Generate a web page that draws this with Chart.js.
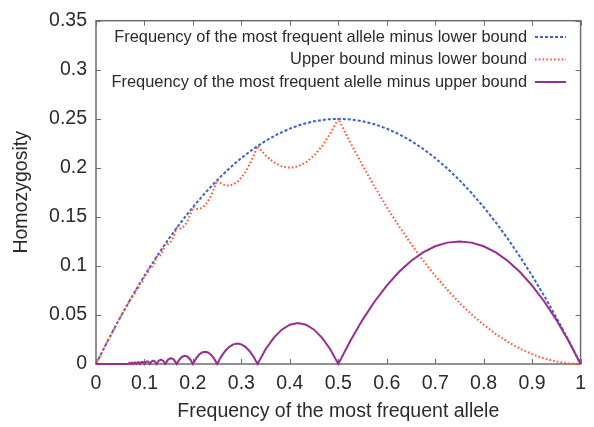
<!DOCTYPE html>
<html>
<head>
<meta charset="utf-8">
<script src="https://cdn.jsdelivr.net/npm/chart.js@4/dist/chart.umd.min.js"></script>
<style>
  html, body { margin: 0; padding: 0; background: #fff; }
  #wrap { width: 594px; height: 427px; }
</style>
</head>
<body>
<div id="wrap"><canvas id="c" width="594" height="427"></canvas></div>
<script>
const seriesLabels = [
  "Frequency of the most frequent allele minus lower bound",
  "Upper bound minus lower bound",
  "Frequency of the most frequent alelle minus upper bound"
];
const xTitle = "Frequency of the most frequent allele";
const yTitle = "Homozygosity";

const blueX = [0, 0.025, 0.05, 0.075, 0.1, 0.125, 0.15, 0.175, 0.2, 0.225, 0.25, 0.275, 0.3, 0.325, 0.35, 0.375, 0.4, 0.425, 0.45, 0.475, 0.5,
  0.525, 0.55, 0.575, 0.6, 0.625, 0.65, 0.675, 0.7, 0.725, 0.75, 0.775, 0.8, 0.825, 0.85, 0.875, 0.9, 0.925, 0.95, 0.975, 1];
const blueY = [0, 0.024375, 0.0475, 0.069375, 0.09, 0.109375, 0.1275, 0.144375, 0.16, 0.174375, 0.1875, 0.199375, 0.21, 0.219375, 0.2275, 0.234375, 0.24, 0.244375, 0.2475, 0.249375, 0.25,
  0.249375, 0.2475, 0.244375, 0.24, 0.234375, 0.2275, 0.219375, 0.21, 0.199375, 0.1875, 0.174375, 0.16, 0.144375, 0.1275, 0.109375, 0.09, 0.069375, 0.0475, 0.024375, 0];

const orangeX = [0, 0.025, 0.05, 0.0625, 0.071429, 0.074176, 0.076923, 0.080128, 0.083333, 0.087121, 0.090909, 0.095455, 0.1, 0.105556, 0.111111, 0.115741, 0.12037, 0.125,
  0.129464, 0.133929, 0.138393, 0.142857, 0.14881, 0.154762, 0.160714, 0.166667,
  0.172222, 0.177778, 0.183333, 0.188889, 0.194444, 0.2,
  0.20625, 0.2125, 0.21875, 0.225, 0.23125, 0.2375, 0.24375, 0.25,
  0.258333, 0.266667, 0.275, 0.283333, 0.291667, 0.3, 0.308333, 0.316667, 0.325, 0.333333,
  0.35, 0.366667, 0.383333, 0.4, 0.416667, 0.433333, 0.45, 0.466667, 0.483333, 0.5,
  0.525, 0.55, 0.575, 0.6, 0.625, 0.65, 0.675, 0.7, 0.725, 0.75, 0.775, 0.8, 0.825, 0.85, 0.875, 0.9, 0.925, 0.95, 0.975, 1];
const orangeY = [0, 0.024375, 0.0475, 0.058594, 0.066327, 0.0673, 0.071006, 0.072105, 0.076389, 0.077637, 0.082645, 0.08407, 0.09, 0.091636, 0.098765, 0.099264, 0.102793, 0.109375,
  0.109354, 0.111529, 0.115891, 0.122449, 0.122205, 0.12486, 0.130421, 0.138889,
  0.137932, 0.138765, 0.141389, 0.145802, 0.152007, 0.16,
  0.158242, 0.157969, 0.15918, 0.161875, 0.166055, 0.171719, 0.178867, 0.1875,
  0.184097, 0.182222, 0.181875, 0.183056, 0.185764, 0.19, 0.195764, 0.203056, 0.211875, 0.222222,
  0.2125, 0.205556, 0.201389, 0.2, 0.201389, 0.205556, 0.2125, 0.222222, 0.234722, 0.25,
  0.225625, 0.2025, 0.180625, 0.16, 0.140625, 0.1225, 0.105625, 0.09, 0.075625, 0.0625, 0.050625, 0.04, 0.030625, 0.0225, 0.015625, 0.01, 0.005625, 0.0025, 0.000625, 0];

const purpleX = [0, 0.066667, 0.069048, 0.071429, 0.074176, 0.076923, 0.080128, 0.083333, 0.085227, 0.087121, 0.089015, 0.090909,
  0.093182, 0.095455, 0.097727, 0.1, 0.102778, 0.105556, 0.108333, 0.111111, 0.114583, 0.118056, 0.121528, 0.125,
  0.129464, 0.133929, 0.138393, 0.142857, 0.14881, 0.154762, 0.160714, 0.166667,
  0.172222, 0.177778, 0.183333, 0.188889, 0.194444, 0.2,
  0.20625, 0.2125, 0.21875, 0.225, 0.23125, 0.2375, 0.24375, 0.25,
  0.258333, 0.266667, 0.275, 0.283333, 0.291667, 0.3, 0.308333, 0.316667, 0.325, 0.333333,
  0.35, 0.366667, 0.383333, 0.4, 0.416667, 0.433333, 0.45, 0.466667, 0.483333, 0.5,
  0.525, 0.55, 0.575, 0.6, 0.625, 0.65, 0.675, 0.7, 0.725, 0.75, 0.775, 0.8, 0.825, 0.85, 0.875, 0.9, 0.925, 0.95, 0.975, 1];
const purpleY = [0, 0, 0.00119, 0, 0.001374, 0, 0.001603, 0, 0.00142, 0.001894, 0.00142, 0,
  0.001705, 0.002273, 0.001705, 0, 0.002083, 0.002778, 0.002083, 0, 0.002604, 0.003472, 0.002604, 0,
  0.003348, 0.004464, 0.003348, 0, 0.004464, 0.005952, 0.004464, 0,
  0.00463, 0.007407, 0.008333, 0.007407, 0.00463, 0,
  0.005469, 0.009375, 0.011719, 0.0125, 0.011719, 0.009375, 0.005469, 0,
  0.0075, 0.013333, 0.0175, 0.02, 0.020833, 0.02, 0.0175, 0.013333, 0.0075, 0,
  0.015, 0.026667, 0.035, 0.04, 0.041667, 0.04, 0.035, 0.026667, 0.015, 0,
  0.02375, 0.045, 0.06375, 0.08, 0.09375, 0.105, 0.11375, 0.12, 0.12375, 0.125, 0.12375, 0.12, 0.11375, 0.105, 0.09375, 0.08, 0.06375, 0.045, 0.02375, 0];

const pts = (xs, ys) => xs.map((x, i) => ({ x: x, y: ys[i] }));

const FONT = "'Liberation Sans', Arial, sans-serif";
const TEXT = '#2b2b2b';
const FRAME = '#6e6e6e';

const framePlugin = {
  id: 'frame',
  beforeDatasetsDraw(chart) {
    const { ctx, chartArea: a, scales: { x, y } } = chart;
    ctx.save();
    ctx.strokeStyle = FRAME;
    ctx.lineWidth = 1.5;
    ctx.strokeRect(a.left, a.top, a.right - a.left, a.bottom - a.top);
    ctx.lineWidth = 1;
    const L = 5;
    ctx.beginPath();
    x.ticks.forEach(t => {
      const px = Math.round(x.getPixelForValue(t.value)) + 0.5;
      ctx.moveTo(px, a.bottom); ctx.lineTo(px, a.bottom - L);
      ctx.moveTo(px, a.top); ctx.lineTo(px, a.top + L);
    });
    y.ticks.forEach(t => {
      const py = Math.round(y.getPixelForValue(t.value)) + 0.5;
      ctx.moveTo(a.left, py); ctx.lineTo(a.left + L, py);
      ctx.moveTo(a.right, py); ctx.lineTo(a.right - L, py);
    });
    ctx.stroke();
    ctx.restore();
  },
  afterDraw(chart) {
    const { ctx } = chart;
    ctx.save();
    ctx.font = "16.4px " + FONT;
    ctx.textAlign = 'right';
    ctx.textBaseline = 'middle';
    chart.data.datasets.forEach((ds, i) => {
      const yy = 37 + i * 22.5;
      ctx.fillStyle = TEXT;
      ctx.fillText(ds.label, 527, yy);
      ctx.beginPath();
      ctx.strokeStyle = ds.borderColor;
      ctx.lineWidth = ds.borderWidth;
      ctx.setLineDash(ds.borderDash || []);
      ctx.moveTo(535, yy); ctx.lineTo(566, yy);
      ctx.stroke();
    });
    ctx.restore();
  }
};

new Chart(document.getElementById('c'), {
  type: 'line',
  data: {
    datasets: [
      { label: seriesLabels[0], data: pts(blueX, blueY), borderColor: '#3a63c9', borderWidth: 2, borderDash: [3, 2], order: 3, clip: 4 },
      { label: seriesLabels[1], data: pts(orangeX, orangeY), borderColor: '#ff5533', borderWidth: 2, borderDash: [1.6, 2.2], order: 2, clip: 4 },
      { label: seriesLabels[2], data: pts(purpleX, purpleY), borderColor: '#992d8f', borderWidth: 2, order: 1, clip: 4 }
    ]
  },
  options: {
    responsive: false,
    animation: false,
    events: [],
    layout: { padding: { top: 13, right: 11, left: 0, bottom: 0 } },
    elements: { point: { radius: 0 }, line: { tension: 0, fill: false } },
    plugins: { legend: { display: false }, tooltip: { enabled: false } },
    scales: {
      x: {
        type: 'linear', min: 0, max: 1,
        grid: { display: false, drawTicks: false },
        border: { display: false },
        ticks: { stepSize: 0.1, padding: 8, color: TEXT, font: { family: FONT, size: 19.5 },
          maxRotation: 0, callback: v => String(+v.toFixed(2)) },
        title: { display: true, text: xTitle, color: TEXT, font: { family: FONT, size: 19.5 }, padding: { top: 0, bottom: 4 } },
        afterFit: s => { s.height = 63; }
      },
      y: {
        type: 'linear', min: 0, max: 0.35,
        grid: { display: false, drawTicks: false },
        border: { display: false },
        ticks: { stepSize: 0.05, padding: 9, color: TEXT, font: { family: FONT, size: 19.5 },
          callback: v => String(+v.toFixed(2)) },
        title: { display: true, text: yTitle, color: TEXT, font: { family: FONT, size: 19.5 }, padding: { top: 10, bottom: 0 } },
        afterFit: s => { s.width = 96; }
      }
    }
  },
  plugins: [framePlugin]
});
</script>
</body>
</html>
